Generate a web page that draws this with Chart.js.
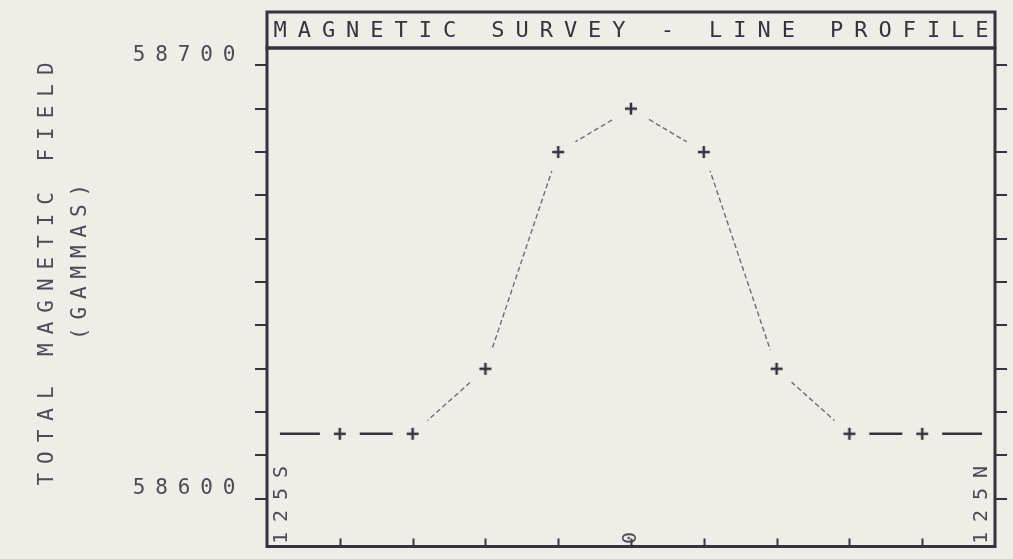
<!DOCTYPE html>
<html>
<head>
<meta charset="utf-8">
<title>Magnetic Survey - Line Profile</title>
<script src="https://cdn.jsdelivr.net/npm/chart.js@4.4.1/dist/chart.umd.min.js"></script>
<style>
    html, body { margin: 0; padding: 0; background: #efede7; }
    canvas { display: block; }
</style>
</head>
<body>
<canvas id="profile-chart" width="1013" height="559"></canvas>
<script>
// Station positions along the line (m, S negative / N positive)
const stations = [-125, -100, -75, -50, -25, 0, 25, 50, 75, 100, 125];
// Total magnetic field readings (gammas)
const fieldValues = [58615, 58615, 58615, 58630, 58680, 58690, 58680, 58630, 58615, 58615, 58615];
// Axis ticks
const yTickValues = [58600, 58610, 58620, 58630, 58640, 58650, 58660, 58670, 58680, 58690, 58700];
const yLabelValues = [58600, 58700];
const xTickValues = [-100, -75, -50, -25, 0, 25, 50, 75, 100];
const xLabelValues = [-125, 0, 125];
const xLabelTexts = ['125S', '0', '125N'];

const chartTitle = 'MAGNETIC SURVEY - LINE PROFILE';
const yTitle = 'TOTAL MAGNETIC FIELD';
const yUnit = '(GAMMAS)';

(function() {
    'use strict';

    const colors = {
        paper: '#efede7',
        ink: '#38323d',
        text: '#4e4954',
        faint: '#6f6a74'
    };
    const mono = '"DejaVu Sans Mono", "Liberation Mono", monospace';

    // Plus marker on a paper-coloured disc, so the line breaks around each station
    function makeMarker(maskRadius, withCross) {
        const size = maskRadius * 2 + 2;
        const c = document.createElement('canvas');
        c.width = size;
        c.height = size;
        const g = c.getContext('2d');
        const m = size / 2;
        g.fillStyle = colors.paper;
        g.beginPath();
        g.arc(m, m, maskRadius, 0, Math.PI * 2);
        g.fill();
        if (withCross) {
            g.strokeStyle = colors.ink;
            g.lineWidth = 2.5;
            g.beginPath();
            g.moveTo(m - 6, m);
            g.lineTo(m + 6, m);
            g.moveTo(m, m - 6);
            g.lineTo(m, m + 6);
            g.stroke();
        }
        return c;
    }
    const crossMarker = makeMarker(20, true);
    const endMask = makeMarker(13, false);

    // Draws text one character at a time with a fixed pitch (printer style)
    function spacedText(ctx, text, cx, cy, step, rotation) {
        ctx.save();
        ctx.translate(cx, cy);
        ctx.rotate(rotation || 0);
        const n = text.length;
        for (let i = 0; i < n; i++) {
            ctx.fillText(text[i], (i - (n - 1) / 2) * step, 0);
        }
        ctx.restore();
    }

    const decorations = {
        id: 'decorations',
        afterDraw(chart) {
            const ctx = chart.ctx;
            const a = chart.chartArea;
            const xs = chart.scales.x;
            const ys = chart.scales.y;

            ctx.save();
            ctx.strokeStyle = colors.ink;
            ctx.lineWidth = 3;
            ctx.strokeRect(a.left, a.top, a.right - a.left, a.bottom - a.top);
            ctx.strokeRect(a.left, 12, a.right - a.left, a.top - 12);

            // inward ticks on the bottom axis
            ctx.lineWidth = 2;
            ctx.beginPath();
            xTickValues.forEach(function(v) {
                const px = Math.round(xs.getPixelForValue(v)) + 0.5;
                ctx.moveTo(px, a.bottom);
                ctx.lineTo(px, a.bottom - 8);
            });
            ctx.stroke();

            ctx.textAlign = 'center';
            ctx.textBaseline = 'middle';

            // title in its box
            ctx.fillStyle = colors.ink;
            ctx.font = '22px ' + mono;
            spacedText(ctx, chartTitle, (a.left + a.right) / 2, (12 + a.top) / 2 + 1, 24.2);

            // y axis title
            ctx.fillStyle = colors.text;
            ctx.font = '21px ' + mono;
            spacedText(ctx, yTitle, 48, 274, 21.6, -Math.PI / 2);
            spacedText(ctx, yUnit, 81, 262, 20.5, -Math.PI / 2);

            // y tick labels, right aligned, printed a little above the tick
            yLabelValues.forEach(function(v) {
                const label = String(v);
                const lastCenter = a.left - 38;
                const step = 22.5;
                const cx = lastCenter - (label.length - 1) / 2 * step;
                spacedText(ctx, label, cx, ys.getPixelForValue(v) - 10, step);
            });

            // station labels, printed vertically inside the frame
            ctx.font = '20px ' + mono;
            xLabelValues.forEach(function(v, i) {
                const label = xLabelTexts[i];
                let px = xs.getPixelForValue(v);
                if (i === 0) px += 15;
                if (i === xLabelValues.length - 1) px -= 13;
                const cy = label.length > 1 ? 505 : 538;
                spacedText(ctx, label, px, cy, 22, -Math.PI / 2);
            });
            ctx.restore();
        }
    };

    function tickAxis(position, width) {
        return {
            type: 'linear',
            position: position,
            min: 58589,
            max: 58704,
            afterBuildTicks: function(scale) {
                scale.ticks = yTickValues.map(function(v) { return { value: v }; });
            },
            afterFit: function(scale) {
                scale.width = width;
            },
            border: { display: false },
            grid: {
                drawOnChartArea: false,
                drawTicks: true,
                tickLength: 12,
                color: colors.ink,
                lineWidth: 2
            },
            ticks: { display: false }
        };
    }

    const lastIndex = stations.length - 1;
    const points = stations.map(function(s, i) {
        return { x: s, y: fieldValues[i] };
    });

    function isFlat(ctx) {
        return ctx.p0.parsed.y === ctx.p1.parsed.y;
    }

    new Chart(document.getElementById('profile-chart'), {
        type: 'line',
        data: {
            datasets: [{
                label: 'Total field',
                data: points,
                borderColor: colors.ink,
                borderWidth: 2.5,
                tension: 0,
                fill: false,
                segment: {
                    borderColor: function(ctx) { return isFlat(ctx) ? colors.ink : colors.faint; },
                    borderWidth: function(ctx) { return isFlat(ctx) ? 2.5 : 1.4; },
                    borderDash: function(ctx) { return isFlat(ctx) ? [] : [5, 3]; }
                },
                pointStyle: function(ctx) {
                    const i = ctx.dataIndex;
                    return (i === 0 || i === lastIndex) ? endMask : crossMarker;
                },
                pointRadius: 10,
                pointHoverRadius: 10
            }]
        },
        options: {
            responsive: false,
            animation: false,
            events: [],
            layout: {
                padding: { top: 48, bottom: 4, left: 0, right: 0 }
            },
            plugins: {
                legend: { display: false },
                tooltip: { enabled: false }
            },
            scales: {
                x: {
                    type: 'linear',
                    min: -125,
                    max: 125,
                    display: false
                },
                y: tickAxis('left', 267),
                y2: tickAxis('right', 18)
            }
        },
        plugins: [decorations]
    });
})();
</script>
</body>
</html>
